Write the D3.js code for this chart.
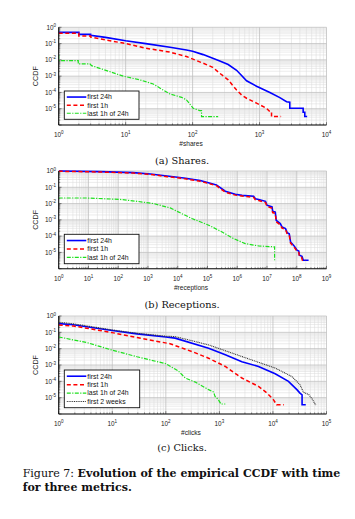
<!DOCTYPE html>
<html><head><meta charset="utf-8">
<script src="https://cdn.jsdelivr.net/npm/d3@7"></script>
<style>
html,body{margin:0;padding:0;background:#fff;}
svg{display:block;}
</style></head>
<body>
<svg id="fig" width="355" height="519"></svg>
<script>
// ---------------- DATA ----------------
const yTickExps = [0, -1, -2, -3, -4, -5];
const sharesTickExps = [0, 1, 2, 3, 4];
const receptionsTickExps = [0, 1, 2, 3, 4, 5, 6, 7, 8, 9];
const clicksTickExps = [0, 1, 2, 3, 4, 5];
const seriesNames = ["first 24h", "first 1h", "last 1h of 24h", "first 2 weeks"];
const xTitles = ["#shares", "#receptions", "#clicks"];
const subCaptions = ["(a) Shares.", "(b) Receptions.", "(c) Clicks."];
const yTitle = "CCDF";
const figCaptionLabel = "Figure 7: ";
const figCaptionLine1 = "Evolution of the empirical CCDF with time";
const figCaptionLine2 = "for three metrics.";

// (a) shares : [value, CCDF]
const sharesFirst24h = [[1,0.49],[2,0.49],[2,0.37],[3,0.37],[3,0.32],[5,0.24],[10,0.15],[20,0.1],[46,0.059],[81,0.04],[100,0.034],[144,0.021],[255,0.0085],[340,0.0052],[454,0.0023],[539,0.0011],[640,0.00052],[902,0.00024],[1426,0.0001],[2010,0.000048],[2530,0.000027],[2830,0.000025],[2830,0.0000107],[4480,0.0000107],[4480,0.0000061],[4740,0.0000061],[4740,0.0000033],[5140,0.0000033]];
const sharesFirst1h = [[1,0.43],[2,0.43],[2,0.29],[3,0.29],[3,0.25],[5,0.17],[10,0.1],[20,0.052],[46,0.03],[81,0.016],[144,0.0062],[200,0.0035],[255,0.0015],[340,0.00059],[454,0.00014],[539,0.00007],[640,0.000044],[902,0.000022],[1270,0.0000107],[1426,0.0000066],[1510,0.0000066],[1510,0.0000033],[2100,0.0000033]];
const sharesLast1h = [[1,0.02],[1,0.009],[1.96,0.009],[1.96,0.0056],[2.93,0.0056],[3.1,0.0044],[4.1,0.003],[5.2,0.0022],[9.2,0.001],[16.3,0.00059],[25.8,0.00033],[36.4,0.00014],[45.8,0.000081],[68.5,0.00005],[81,0.000035],[102,0.0000107],[128,0.0000076],[136,0.0000076],[136,0.0000033],[241,0.0000033]];

// (b) receptions
const receptionsFirst24h = [[1,1],[25,0.91],[320,0.79],[1200,0.66],[4400,0.49],[16000,0.37],[57000,0.26],[200000,0.14],[397000,0.057],[860000,0.037],[1450000,0.032],[3550000,0.028],[4070000,0.02],[5250000,0.018],[8900000,0.0138],[10000000,0.0079],[14800000,0.0062],[15500000,0.0034],[19000000,0.003],[20400000,0.00094],[28000000,0.00059],[32000000,0.00037],[42000000,0.00029],[48000000,0.00016],[56000000,0.00014],[62000000,0.000044],[79000000,0.000027],[91000000,0.000019],[102000000,0.0000136],[117000000,0.000012],[123000000,0.0000067],[150000000,0.0000058],[166000000,0.0000033],[250000000,0.0000033]];
const receptionsFirst1h = [[1,0.96],[25,0.87],[320,0.75],[1200,0.62],[4400,0.45],[16000,0.34],[57000,0.235],[200000,0.125],[397000,0.05],[860000,0.033],[1450000,0.029],[3550000,0.024],[4070000,0.017],[5250000,0.0155],[8900000,0.0115],[10000000,0.0067],[14800000,0.0052],[15500000,0.0028],[19000000,0.0025],[20400000,0.00075],[28000000,0.0005],[32000000,0.00031],[42000000,0.00025],[48000000,0.00013],[56000000,0.000115],[62000000,0.000037],[79000000,0.000023],[91000000,0.000016],[102000000,0.0000115],[117000000,0.00001],[123000000,0.0000056],[145000000,0.000005],[155000000,0.0000033],[200000000,0.0000033]];
const receptionsLast1h = [[1,0.022],[8.8,0.022],[115,0.018],[425,0.0138],[1540,0.01],[5600,0.0054],[10000,0.0032],[30000,0.0012],[110000,0.00047],[310000,0.00018],[760000,0.00007],[1860000,0.000035],[5200000,0.000025],[18000000,0.000022],[18000000,0.000003]];

// (c) clicks
const clicksFirst24h = [[1,0.34],[1.88,0.29],[3.3,0.22],[10,0.13],[29,0.08],[100,0.052],[149,0.044],[630,0.0107],[1290,0.0042],[2630,0.0016],[5370,0.00081],[11000,0.00029],[19500,0.0001],[28000,0.000031],[32000,0.000019],[35000,0.000015],[35000,0.0000037],[41000,0.0000037]];
const clicksFirst1h = [[1,0.28],[1.88,0.245],[3.3,0.18],[10,0.096],[29,0.048],[120,0.02],[310,0.0066],[630,0.0026],[1290,0.00081],[2630,0.00016],[5370,0.000049],[7760,0.000019],[10200,0.0000076],[11700,0.0000037],[16000,0.0000037]];
const clicksLast1h = [[1,0.052],[3.3,0.024],[10,0.0081],[29,0.0032],[100,0.0012],[170,0.00044],[230,0.00016],[355,0.00009],[630,0.000031],[780,0.000022],[830,0.000012],[955,0.0000076],[1070,0.0000041],[1290,0.0000041]];
const clicksFirst2weeks = [[1,0.42],[1.88,0.33],[3.3,0.25],[10,0.14],[29,0.088],[100,0.058],[149,0.055],[630,0.017],[2630,0.0033],[11000,0.00065],[22400,0.0002],[32000,0.000062],[37000,0.000022],[47000,0.000015],[55000,0.0000076],[62000,0.0000037],[64000,0.0000037]];

// ---------------- STYLES ----------------
const styles = [
  {color:"#0000ff", width:1.6, dash:null},
  {color:"#ff0000", width:1.5, dash:"4,2.6"},
  {color:"#1ee01e", width:1.2, dash:"4,1.4,1.2,1.4"},
  {color:"#333333", width:1.1, dash:"1,0.8"}
];
const sans = "'Liberation Sans', Arial, Helvetica, sans-serif";
const serif = "'DejaVu Serif', serif";

const svg = d3.select("#fig");

const panels = [
  {top:27.3, bottom:125, exps:sharesTickExps, series:[sharesFirst24h, sharesFirst1h, sharesLast1h],
   legend:{x0:64.3, x1:139, y0:91, y1:119.3}, xt:xTitles[0], cap:subCaptions[0], capY:164},
  {top:171, bottom:268.7, exps:receptionsTickExps, series:[receptionsFirst24h, receptionsFirst1h, receptionsLast1h],
   legend:{x0:64.3, x1:139, y0:234.3, y1:263.7}, xt:xTitles[1], cap:subCaptions[1], capY:307.5},
  {top:316, bottom:414, exps:clicksTickExps, series:[clicksFirst24h, clicksFirst1h, clicksLast1h, clicksFirst2weeks],
   legend:{x0:64.3, x1:139.7, y0:370, y1:407.7}, xt:xTitles[2], cap:subCaptions[2], capY:451}
];

const L = 58.7, R = 326.5;

function tickLabel(g, xPos, yPos, exp, anchor){
  const t = g.append("text").attr("x", xPos).attr("y", yPos)
    .attr("text-anchor", anchor).attr("font-family", sans).attr("font-size", 6.4).attr("fill", "#222");
  t.append("tspan").text("10");
  t.append("tspan").attr("dy", -2.8).attr("font-size", 4.5).text(String(exp));
  return t;
}

panels.forEach((p, pi) => {
  const maxExp = p.exps[p.exps.length-1];
  const x = d3.scaleLog().domain([1, Math.pow(10, maxExp)]).range([L, R]);
  const y = d3.scaleLog().domain([1e-6, 1]).range([p.bottom, p.top]);
  const g = svg.append("g");

  // minor grid
  const minorX = [], minorY = [];
  for (let e = 0; e < maxExp; e++) for (let k = 2; k <= 9; k++) minorX.push(k * Math.pow(10, e));
  for (let e = -6; e < 0; e++) for (let k = 2; k <= 9; k++) minorY.push(k * Math.pow(10, e));
  g.selectAll(".mgx").data(minorX).join("line")
    .attr("x1", d => x(d)).attr("x2", d => x(d)).attr("y1", p.top).attr("y2", p.bottom)
    .attr("stroke", "#dcdcdc").attr("stroke-width", 0.55);
  g.selectAll(".mgy").data(minorY).join("line")
    .attr("x1", L).attr("x2", R).attr("y1", d => y(d)).attr("y2", d => y(d))
    .attr("stroke", "#dcdcdc").attr("stroke-width", 0.55);
  // major grid
  const majorX = []; for (let e = 0; e <= maxExp; e++) majorX.push(Math.pow(10, e));
  const majorY = [1e-6,1e-5,1e-4,1e-3,1e-2,1e-1,1];
  g.selectAll(".Mgx").data(majorX).join("line")
    .attr("x1", d => x(d)).attr("x2", d => x(d)).attr("y1", p.top).attr("y2", p.bottom)
    .attr("stroke", "#bdbdbd").attr("stroke-width", 0.75);
  g.selectAll(".Mgy").data(majorY).join("line")
    .attr("x1", L).attr("x2", R).attr("y1", d => y(d)).attr("y2", d => y(d))
    .attr("stroke", "#bdbdbd").attr("stroke-width", 0.75);

  // ticks (inside)
  g.selectAll(".tmx").data(minorX).join("line")
    .attr("x1", d => x(d)).attr("x2", d => x(d)).attr("y1", p.bottom).attr("y2", p.bottom - 1.6)
    .attr("stroke", "#333").attr("stroke-width", 0.5);
  g.selectAll(".tMx").data(majorX).join("line")
    .attr("x1", d => x(d)).attr("x2", d => x(d)).attr("y1", p.bottom).attr("y2", p.bottom - 2.8)
    .attr("stroke", "#333").attr("stroke-width", 0.6);
  g.selectAll(".tmy").data(minorY).join("line")
    .attr("x1", L).attr("x2", L + 1.6).attr("y1", d => y(d)).attr("y2", d => y(d))
    .attr("stroke", "#333").attr("stroke-width", 0.5);
  g.selectAll(".tMy").data(majorY).join("line")
    .attr("x1", L).attr("x2", L + 2.8).attr("y1", d => y(d)).attr("y2", d => y(d))
    .attr("stroke", "#333").attr("stroke-width", 0.6);

  // clip
  const cid = "clip" + pi;
  svg.append("clipPath").attr("id", cid).append("rect")
    .attr("x", L).attr("y", p.top - 1).attr("width", R - L).attr("height", p.bottom - p.top + 1);

  const line = d3.line().x(d => x(d[0])).y(d => y(d[1]));
  const lg = g.append("g").attr("clip-path", `url(#${cid})`);
  p.series.forEach((ser, i) => {
    const s = styles[i];
    lg.append("path").datum(ser).attr("d", line)
      .attr("fill", "none").attr("stroke", s.color).attr("stroke-width", s.width)
      .attr("stroke-dasharray", s.dash).attr("stroke-linejoin", "miter");
  });

  // axes lines left & bottom
  g.append("line").attr("x1", L).attr("x2", R).attr("y1", p.bottom).attr("y2", p.bottom)
    .attr("stroke", "#111").attr("stroke-width", 1.1);
  g.append("line").attr("x1", L).attr("x2", L).attr("y1", p.top).attr("y2", p.bottom)
    .attr("stroke", "#111").attr("stroke-width", 1.1);

  // x tick labels
  p.exps.forEach(e => tickLabel(g, x(Math.pow(10, e)), p.bottom + 12.2, e, "middle"));
  // y tick labels
  yTickExps.forEach(e => tickLabel(g, 56, y(Math.pow(10, e)) + 2.3, e, "end"));

  // axis titles
  g.append("text").attr("x", 191).attr("y", p.bottom + 21)
    .attr("text-anchor", "middle").attr("font-family", sans).attr("font-size", 6.6).attr("fill", "#222").text(p.xt);
  g.append("text").attr("transform", `translate(37.5,${(p.top + p.bottom) / 2}) rotate(-90)`)
    .attr("text-anchor", "middle").attr("font-family", sans).attr("font-size", 7.2).attr("fill", "#222").text(yTitle);

  // legend
  const lgd = p.legend;
  g.append("rect").attr("x", lgd.x0).attr("y", lgd.y0).attr("width", lgd.x1 - lgd.x0).attr("height", lgd.y1 - lgd.y0)
    .attr("fill", "#fff").attr("stroke", "#111").attr("stroke-width", 0.9);
  const n = p.series.length;
  const rowH = (lgd.y1 - lgd.y0 - 4) / n;
  for (let i = 0; i < n; i++) {
    const yy = lgd.y0 + 2 + rowH * (i + 0.5);
    const s = styles[i];
    g.append("line").attr("x1", lgd.x0 + 2.5).attr("x2", lgd.x0 + 22).attr("y1", yy).attr("y2", yy)
      .attr("stroke", s.color).attr("stroke-width", s.width).attr("stroke-dasharray", s.dash);
    g.append("text").attr("x", lgd.x0 + 23).attr("y", yy + 2.4)
      .attr("font-family", sans).attr("font-size", 6.9).attr("fill", "#111").text(seriesNames[i]);
  }

  // sub caption
  svg.append("text").attr("x", 182).attr("y", p.capY).attr("text-anchor", "middle")
    .attr("font-family", serif).attr("font-size", 9.8).attr("fill", "#111").text(p.cap);
});

// figure caption
const c1 = svg.append("text").attr("x", 22.7).attr("y", 476.5)
  .attr("font-family", serif).attr("font-size", 9.5).attr("fill", "#111");
c1.append("tspan").text(figCaptionLabel);
c1.append("tspan").attr("font-weight", "bold").text(figCaptionLine1);
const w1 = c1.node().getComputedTextLength();
const fs = 9.5 * 318 / w1;
c1.attr("font-size", fs);
svg.append("text").attr("x", 22.7).attr("y", 491)
  .attr("font-family", serif).attr("font-size", fs).attr("font-weight", "bold").attr("fill", "#111")
  .text(figCaptionLine2);
</script>
</body></html>
